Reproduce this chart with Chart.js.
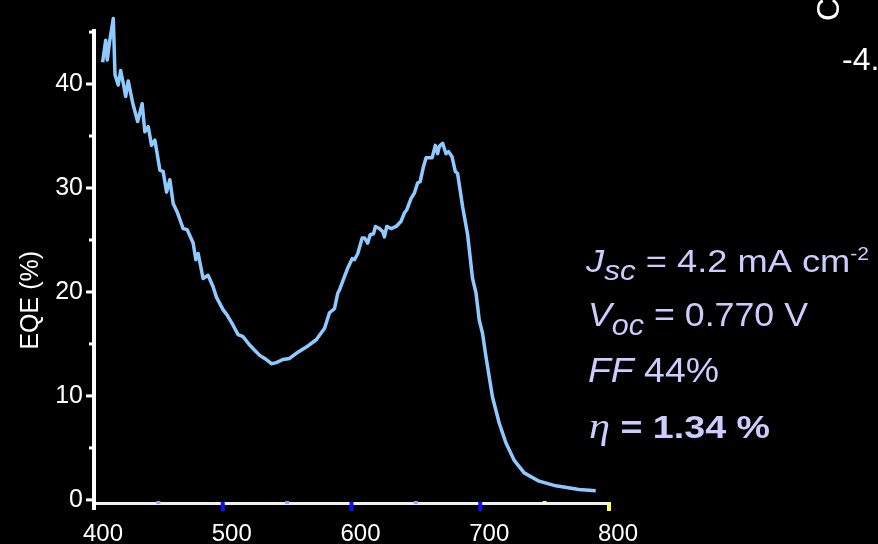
<!DOCTYPE html>
<html>
<head>
<meta charset="utf-8">
<script src="https://cdn.jsdelivr.net/npm/chart.js@4/dist/chart.umd.min.js"></script>
<style>
  html, body { margin: 0; padding: 0; background: #000; }
  #wrap { width: 878px; height: 544px; }
</style>
</head>
<body>
<div id="wrap"><canvas id="eqe" width="878" height="544"></canvas></div>
<script>
// wavelength (nm) and EQE (%)
const wavelength = [406.7, 409.1, 410.3, 411.9, 415.0, 416.3, 418.8, 420.7, 422.7, 424.6,
  426.6, 430.0, 433.9, 437.4, 439.5, 442.1, 444.7, 447.3, 451.2, 453.7,
  456.4, 458.9, 461.5, 464.6, 469.2, 472.3, 477.0, 479.1, 480.9, 484.7,
  488.6, 492.5, 495.1, 500.2, 503.3, 508.0, 511.9, 515.7, 520.9, 524.8,
  528.7, 532.6, 537.8, 541.6, 546.7, 551.9, 557.1, 564.9, 572.6, 579.1,
  582.9, 586.8, 589.4, 590.7, 594.6, 597.1, 600.5, 602.3, 604.9, 608.3,
  610.1, 612.6, 614.5, 617.1, 618.6, 621.7, 624.3, 625.6, 627.4, 630.8,
  634.7, 638.5, 641.1, 642.9, 646.3, 648.8, 651.4, 653.3, 655.8, 657.9,
  662.6, 665.1, 666.9, 668.2, 670.8, 673.4, 675.4, 678.1, 680.6, 682.4,
  686.3, 690.2, 694.0, 696.7, 699.2, 701.8, 704.4, 709.5, 714.7, 719.9,
  726.4, 734.1, 745.7, 758.7, 776.7, 789.7];
const eqe = [42.1, 44.2, 42.3, 43.9, 46.3, 40.9, 39.9, 41.3, 40.1, 38.8,
  40.3, 38.2, 36.4, 38.1, 35.4, 35.9, 34.1, 34.6, 31.7, 31.6,
  29.6, 30.8, 28.5, 27.7, 26.1, 26.0, 24.7, 23.1, 23.7, 21.3,
  21.6, 20.5, 19.5, 18.3, 17.8, 16.8, 15.9, 15.7, 14.9, 14.4,
  13.9, 13.6, 13.1, 13.2, 13.5, 13.6, 14.1, 14.7, 15.4, 16.5,
  18.0, 18.4, 19.9, 20.2, 21.5, 22.3, 23.2, 23.1, 23.7, 25.2,
  25.2, 24.7, 25.5, 25.6, 26.3, 26.1, 25.8, 25.3, 26.3, 26.1,
  26.3, 26.8, 27.6, 27.9, 29.0, 29.5, 30.5, 30.6, 32.0, 32.9,
  32.9, 34.1, 33.3, 34.0, 34.3, 33.3, 33.5, 33.0, 31.6, 31.4,
  28.2, 25.5, 21.3, 19.9, 17.3, 16.0, 13.8, 9.9, 7.4, 5.5,
  3.8, 2.6, 1.8, 1.35, 1.0, 0.87];

const xTicks = [400, 500, 600, 700, 800];
const xMinor = [450, 550, 650, 750];
const yTicks = [0, 10, 20, 30, 40];
const yMinor = [5, 15, 25, 35, 45];

const SANS = '"Liberation Sans", Arial, sans-serif';
const LAV = 'rgb(204,204,255)';

function stretchLine(ctx, parts, x0, x1, baseline) {
  let w = 0;
  parts.forEach(p => { ctx.font = p.font; w += ctx.measureText(p.text).width; });
  const sx = (x1 - x0) / w;
  ctx.save();
  ctx.translate(x0, baseline);
  ctx.scale(sx, 1);
  let cx = 0;
  parts.forEach(p => {
    ctx.font = p.font;
    ctx.fillText(p.text, cx, p.dy || 0);
    cx += ctx.measureText(p.text).width;
  });
  ctx.restore();
}

const decor = {
  id: 'decor',
  afterDraw(chart) {
    const ctx = chart.ctx;
    const xs = chart.scales.x, ys = chart.scales.y;
    const a = chart.chartArea;
    ctx.save();

    // y ticks on the outside
    ctx.fillStyle = '#fff';
    yTicks.forEach(v => { const py = ys.getPixelForValue(v); ctx.fillRect(a.left - 8, py - 1.5, 7, 3); });
    yMinor.forEach(v => { const py = ys.getPixelForValue(v); ctx.fillRect(a.left - 5, py - 1.5, 4, 3); });
    ctx.fillRect(a.left - 2, a.bottom, 4, 7);

    // x ticks, coloured like the slide
    xTicks.slice(1).forEach(v => {
      const px = xs.getPixelForValue(v);
      ctx.fillStyle = v === 800 ? '#ffff66' : '#0a10ff';
      ctx.fillRect(px - 2, a.bottom - 1, 4, 9);
    });
    xMinor.forEach(v => {
      const px = xs.getPixelForValue(v);
      ctx.fillStyle = v === 750 ? '#ffffa0' : '#a0a0ff';
      ctx.fillRect(px - 2, a.bottom - 2, 4, 3);
    });

    // y title
    ctx.fillStyle = '#fff';
    ctx.font = '25px ' + SANS;
    ctx.textAlign = 'center';
    ctx.textBaseline = 'alphabetic';
    ctx.save();
    ctx.translate(37.5, ys.getPixelForValue(19.2));
    ctx.rotate(-Math.PI / 2);
    ctx.fillText('EQE (%)', 0, 0);
    ctx.restore();

    // bits of the neighbouring plot
    ctx.textAlign = 'left';
    ctx.font = '32px ' + SANS;
    ctx.save();
    ctx.translate(839, 21);
    ctx.rotate(-Math.PI / 2);
    ctx.fillText('C', 0, 0);
    ctx.restore();
    ctx.fillText('-4.0', 842, 70);

    // device parameters
    ctx.fillStyle = LAV;
    stretchLine(ctx, [
      { text: 'J', font: 'italic 31px ' + SANS },
      { text: 'sc', font: 'italic 27px ' + SANS, dy: 8 },
      { text: ' = 4.2 mA cm', font: '31px ' + SANS },
      { text: '-2', font: '18px ' + SANS, dy: -12 }
    ], 586, 869, 272);
    stretchLine(ctx, [
      { text: 'V', font: 'italic 34px ' + SANS },
      { text: 'oc', font: 'italic 29px ' + SANS, dy: 9 },
      { text: ' = 0.770 V', font: '34px ' + SANS }
    ], 588, 808, 326);
    stretchLine(ctx, [
      { text: 'FF', font: 'italic 35px ' + SANS },
      { text: ' 44%', font: '35px ' + SANS }
    ], 588, 719, 382);
    stretchLine(ctx, [
      { text: '\u03b7', font: 'italic 36px "Liberation Serif", serif' },
      { text: ' = 1.34 %', font: 'bold 32px ' + SANS }
    ], 589, 770, 438);

    ctx.restore();
  }
};

Chart.defaults.font.family = SANS;

new Chart(document.getElementById('eqe'), {
  type: 'line',
  data: {
    datasets: [{
      label: 'EQE',
      data: wavelength.map((w, i) => ({ x: w, y: eqe[i] })),
      borderColor: '#8ecaff',
      borderWidth: 3.5,
      borderJoinStyle: 'round',
      pointRadius: 0,
      tension: 0,
      clip: false
    }]
  },
  options: {
    responsive: false,
    animation: false,
    events: [],
    layout: { padding: { top: 31, right: 269, left: 0, bottom: 0 } },
    plugins: { legend: { display: false }, tooltip: { enabled: false } },
    scales: {
      x: {
        type: 'linear',
        min: 400,
        max: 800,
        afterBuildTicks: s => { s.ticks = xTicks.map(v => ({ value: v })); },
        afterFit: s => { s.height = 41; },
        grid: { display: true, drawOnChartArea: false, drawTicks: false },
        border: { display: true, color: '#f0f0f0', width: 3 },
        ticks: { color: '#fff', font: { size: 24 }, padding: 17, labelOffset: 9, maxRotation: 0 }
      },
      y: {
        min: -0.3,
        max: 45.1,
        afterBuildTicks: s => { s.ticks = yTicks.map(v => ({ value: v })); },
        afterFit: s => { s.width = 94; },
        grid: { display: true, drawOnChartArea: false, drawTicks: false },
        border: { display: true, color: '#fff', width: 4 },
        ticks: { color: '#fff', font: { size: 25 }, padding: 11 }
      }
    }
  },
  plugins: [decor]
});
</script>
</body>
</html>
